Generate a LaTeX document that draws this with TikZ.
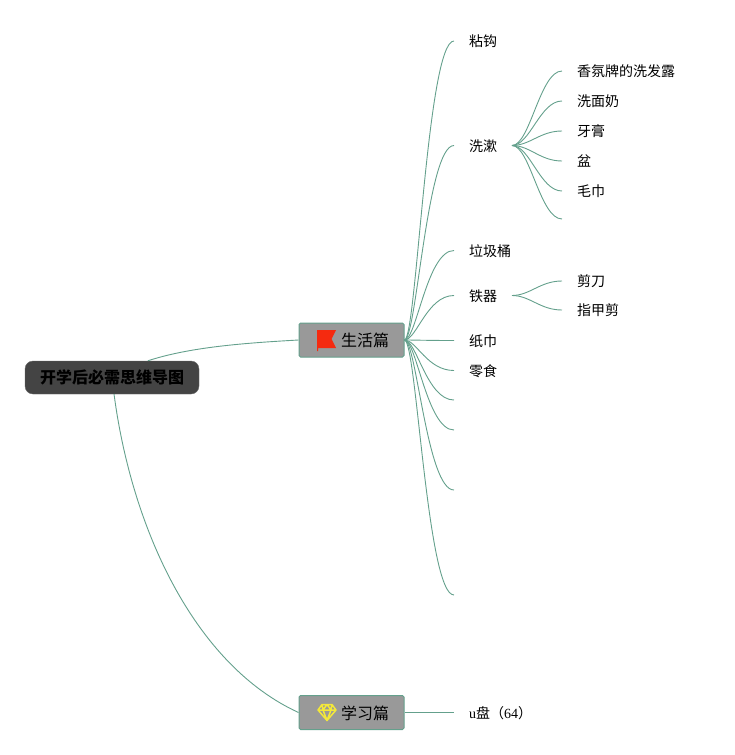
\documentclass[tikz,border=0pt]{standalone}
\usepackage{fontspec}
\setmainfont{Liberation Serif}
\newfontfamily\cjk{Noto Sans CJK SC}
\usepackage{tikz}
\definecolor{linkgreen}{HTML}{64A08C}
\definecolor{rootgray}{HTML}{444444}
\definecolor{branchgray}{HTML}{999999}
\definecolor{flagred}{HTML}{F52A0F}
\definecolor{gemyellow}{HTML}{F3E83A}
\tikzset{
	link/.style={draw=linkgreen, line width=0.9pt},
	rootbox/.style={fill=rootgray, draw=rootgray!80, rounded corners=8pt, minimum width=174pt, minimum height=33pt, inner sep=0pt, font=\cjk\bfseries\fontsize{16}{16}\selectfont},
	branchbox/.style={fill=branchgray, draw=linkgreen, line width=1pt, rounded corners=1.5pt, minimum width=105pt, minimum height=34pt, inner sep=0pt},
	branchtext/.style={anchor=west, inner sep=0pt, font=\cjk\fontsize{16}{16}\selectfont},
	leaf/.style={anchor=west, inner sep=0pt, outer xsep=15pt, text height=12pt, text depth=1pt, font=\cjk\fontsize{14}{14}\selectfont},
}
\begin{document}
\begin{tikzpicture}[x=1pt, y=-1pt]
	\useasboundingbox (0,0) rectangle (735,755);
	\node[rootbox] (root) at (112,377.5) {开学后必需思维导图};
	\node[branchbox] (shenghuo) at (351.5,340) {};
	\node[branchbox] (xuexi) at (351.5,712.5) {};
	\node[branchtext] (shenghuotext) at (341,340.5) {生活篇};
	\node[branchtext] (xuexitext) at (341,713) {学习篇};
	% icons
	\fill[flagred] (317,330) -- (336,330) -- (331.5,339) -- (336,348) -- (318,348) -- (318,351) -- (317,351) -- cycle;
	\draw[gemyellow, line width=1.5pt, line join=round] (322,704.5) -- (332,704.5) -- (336,710) -- (327,720.5) -- (318,710) -- cycle
		(318,710) -- (336,710) (323,710) -- (327,720.5) -- (331,710) (322,704.5) -- (323,710) -- (327,704.5) -- (331,710) -- (332,704.5);
	% first level
	\node[leaf] (nianguo) at (454,41) {粘钩};
	\node[leaf] (xishu) at (454,145.5) {洗漱};
	\node[leaf] (lajitong) at (454,250.5) {垃圾桶};
	\node[leaf] (tieqi) at (454,295.5) {铁器};
	\node[leaf] (zhijin) at (454,340.5) {纸巾};
	\node[leaf] (lingshi) at (454,370.5) {零食};
	\coordinate (kong1) at (454,400);
	\coordinate (kong2) at (454,430);
	\coordinate (kong3) at (454,490);
	\coordinate (kong4) at (454,595);
	\node[leaf] (upan) at (454,712.5) {\rmfamily u\cjk 盘（\rmfamily 64\cjk ）};
	% second level
	\node[leaf] (xiangfen) at (562,71) {香氛牌的洗发露};
	\node[leaf] (ximian) at (562,101) {洗面奶};
	\node[leaf] (yagao) at (562,131) {牙膏};
	\node[leaf] (pen) at (562,161) {盆};
	\node[leaf] (maojin) at (562,191) {毛巾};
	\coordinate (kong5) at (562,219);
	\node[leaf] (jiandao) at (562,281) {剪刀};
	\node[leaf] (zhijia) at (562,310) {指甲剪};
	% connectors
	\draw[link] (root.25) .. controls (190,347) and (245,343) .. (shenghuo.west);
	\draw[link] (root.-83) .. controls (132,530) and (195,665) .. (xuexi.west);
	\draw[link] (xuexi.east) -- (upan.west);
	\foreach \leafname in {nianguo.west, xishu.west, lajitong.west, tieqi.west, zhijin.west, lingshi.west, kong1, kong2, kong3, kong4}
		\draw[link] (shenghuo.east) .. controls +(12,0) and +(-27,0) .. (\leafname);
	\foreach \leafname in {xiangfen.west, ximian.west, yagao.west, pen.west, maojin.west, kong5}
		\draw[link] (xishu.east) .. controls +(18,0) and +(-22,0) .. (\leafname);
	\foreach \leafname in {jiandao.west, zhijia.west}
		\draw[link] (tieqi.east) .. controls +(18,0) and +(-22,0) .. (\leafname);
\end{tikzpicture}
\end{document}
